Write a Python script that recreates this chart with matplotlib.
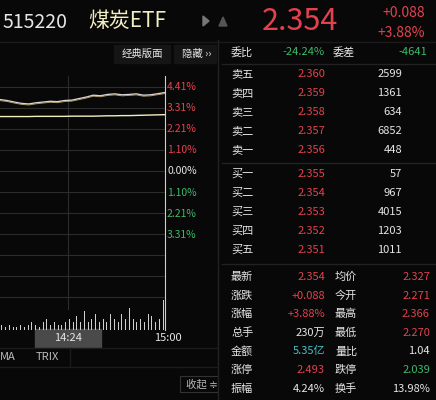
import matplotlib
matplotlib.use("Agg")
import matplotlib.pyplot as plt
from matplotlib.patches import Rectangle, Polygon

plt.rcParams['font.family'] = ['Noto Sans CJK SC', 'DejaVu Sans']

RED = '#e2424e'; GREEN = '#3db86a'; WHITE = '#e6e6e6'; BG = '#080808'; GRID = '#2c2c2c'; GOLD = '#f2efc0'

code, name = "515220", "煤炭ETF"
last, chg, chgp = "2.354", "+0.088", "+3.88%"
pct_levels = [4.41, 3.31, 2.21, 1.10, 0.00, -1.10, -2.21, -3.31]
price_pct = [3.75, 3.70, 3.62, 3.55, 3.52, 3.58, 3.62, 3.66, 3.64, 3.70, 3.72, 3.80, 3.88, 3.98, 3.95, 4.02, 4.05, 4.00, 4.02, 4.05, 3.98, 4.00, 4.06, 4.12]
avg_pct = [2.86, 2.86, 2.86, 2.86, 2.86, 2.87, 2.87, 2.87, 2.87, 2.87, 2.88, 2.88, 2.88, 2.88, 2.89, 2.90, 2.90, 2.91, 2.91, 2.92, 2.93, 2.94, 2.95, 2.96]
volumes = [2, 1, 2, 1, 1, 2, 1, 2, 3, 2, 1, 3, 4, 2, 3, 2, 2, 3, 4, 3, 5, 3, 7, 3, 4, 6, 3, 4, 3, 6, 4, 3, 6, 4, 8, 4, 3, 4, 3, 6, 5, 3, 4, 11]
sell_labels = ["卖五", "卖四", "卖三", "卖二", "卖一"]
sell_prices = ["2.360", "2.359", "2.358", "2.357", "2.356"]
sell_vols = ["2599", "1361", "634", "6852", "448"]
buy_labels = ["买一", "买二", "买三", "买四", "买五"]
buy_prices = ["2.355", "2.354", "2.353", "2.352", "2.351"]
buy_vols = ["57", "967", "4015", "1203", "1011"]
stats_l = [("最新", "2.354", RED), ("涨跌", "+0.088", RED), ("涨幅", "+3.88%", RED), ("总手", "230万", WHITE),
           ("金额", "5.35亿", '#45c1c8'), ("涨停", "2.493", RED), ("振幅", "4.24%", WHITE)]
stats_r = [("均价", "2.327", RED), ("今开", "2.271", RED), ("最高", "2.366", RED), ("最低", "2.270", RED),
           ("量比", "1.04", WHITE), ("跌停", "2.039", GREEN), ("换手", "13.98%", WHITE)]

W, H = 436, 400
fig = plt.figure(figsize=(W/100, H/100), dpi=100, facecolor=BG)
bg = fig.add_axes([0, 0, 1, 1]); bg.set_xlim(0, W); bg.set_ylim(H, 0); bg.axis('off')

def pax(x0, y0, x1, y1):
    return fig.add_axes([x0/W, 1-y1/H, (x1-x0)/W, (y1-y0)/H])

# price chart
ax = pax(0, 76, 165, 310)
ax.set_facecolor(BG)
step = 1.1025
ax.set_ylim(-7.30, 4.99)
ax.set_xlim(0, len(price_pct)-1)
for k in range(-6, 5):
    ax.axhline(k*step, color=GRID, lw=0.8)
ax.axvline(9.5, color=GRID, lw=0.8)
ax.plot(range(len(price_pct)), price_pct, color='#d8d8d8', lw=1.0)
ax.plot(range(len(price_pct)), [p-0.05 for p in price_pct], color='#b09a70', lw=0.7)
ax.plot(range(len(avg_pct)), avg_pct, color=GOLD, lw=1.0)
ax.axis('off')
for i, v in enumerate(pct_levels):
    col = RED if v > 0 else (GREEN if v < 0 else WHITE)
    bg.text(167, 87 + i*21.1, f"{abs(v):.2f}%", color=col, fontsize=7.5, va='center', ha='left')

# volume
vax = pax(0, 262, 165, 330)
vax.bar(range(len(volumes)), volumes, color='#cfcfcf', width=0.3)
vax.set_xlim(-0.5, len(volumes)-0.5); vax.set_ylim(0, 25); vax.axis('off')
bg.plot([165, 165], [76, 330], color='#cfcfcf', lw=0.8)
bg.plot([218, 218], [40, 400], color='#222', lw=1)

# time axis
bg.add_patch(Rectangle((35, 329), 66, 18, color='#4a4a4a'))
bg.text(68, 338, "14:24", color=WHITE, fontsize=8, ha='center', va='center')
bg.text(168, 338, "15:00", color=WHITE, fontsize=8, ha='center', va='center')
bg.plot([0, 218], [348, 348], color='#1c1c1c', lw=1)
bg.text(0, 357, "MA", color='#bbbbbb', fontsize=8, va='center')
bg.text(36, 357, "TRIX", color='#bbbbbb', fontsize=8, va='center')
bg.plot([70, 70], [348, 367], color='#1c1c1c', lw=1)
bg.plot([0, 218], [367, 367], color='#1c1c1c', lw=1)
bg.add_patch(Rectangle((180, 376), 38, 16, fill=False, ec='#333', lw=0.8))
bg.text(186, 384, "收起 ≑", color='#bbbbbb', fontsize=7.5, va='center')

# header
bg.text(2, 22, code, color=WHITE, fontsize=14, va='center')
bg.text(88, 21, name, color=GOLD, fontsize=15, va='center')
bg.add_patch(Polygon([(203, 16), (203, 26), (209, 21)], color='#777'))
bg.add_patch(Polygon([(219, 26), (227, 26), (223, 17)], color='#555'))
bg.text(262, 22, last, color=RED, fontsize=22, va='center')
bg.text(425, 13, chg, color=RED, fontsize=10, va='center', ha='right')
bg.text(425, 33, chgp, color=RED, fontsize=10, va='center', ha='right')
bg.plot([0, W], [42, 42], color='#1a1a1a', lw=1)
bg.add_patch(Rectangle((114, 45), 56, 18, color='#151515'))
bg.text(142, 54, "经典版面", color=WHITE, fontsize=7.5, ha='center', va='center')
bg.add_patch(Rectangle((174, 45), 42, 18, color='#151515'))
bg.text(182, 54, "隐藏 ››", color=WHITE, fontsize=7.5, va='center')

fs = 8
bg.text(231, 52, "委比", color=WHITE, fontsize=fs, va='center')
bg.text(325, 52, "-24.24%", color=GREEN, fontsize=fs, va='center', ha='right')
bg.text(333, 52, "委差", color=WHITE, fontsize=fs, va='center')
bg.text(427, 52, "-4641", color=GREEN, fontsize=fs, va='center', ha='right')
bg.plot([222, W], [64, 64], color='#222', lw=1)
for i in range(5):
    y = 74 + i*19
    bg.text(231, y, sell_labels[i], color=WHITE, fontsize=fs, va='center')
    bg.text(325, y, sell_prices[i], color=RED, fontsize=fs, va='center', ha='right')
    bg.text(402, y, sell_vols[i], color=WHITE, fontsize=fs, va='center', ha='right')
bg.plot([222, W], [163, 163], color='#222', lw=1)
for i in range(5):
    y = 174 + i*19
    bg.text(231, y, buy_labels[i], color=WHITE, fontsize=fs, va='center')
    bg.text(325, y, buy_prices[i], color=RED, fontsize=fs, va='center', ha='right')
    bg.text(402, y, buy_vols[i], color=WHITE, fontsize=fs, va='center', ha='right')
bg.plot([222, W], [264, 264], color='#222', lw=1)
for i in range(7):
    y = 277 + i*18.6
    l, v, c = stats_l[i]
    bg.text(231, y, l, color=WHITE, fontsize=fs, va='center')
    bg.text(325, y, v, color=c, fontsize=fs, va='center', ha='right')
    l, v, c = stats_r[i]
    bg.text(335, y, l, color=WHITE, fontsize=fs, va='center')
    bg.text(430, y, v, color=c, fontsize=fs, va='center', ha='right')

fig.savefig("out.png", dpi=100, facecolor=BG)
